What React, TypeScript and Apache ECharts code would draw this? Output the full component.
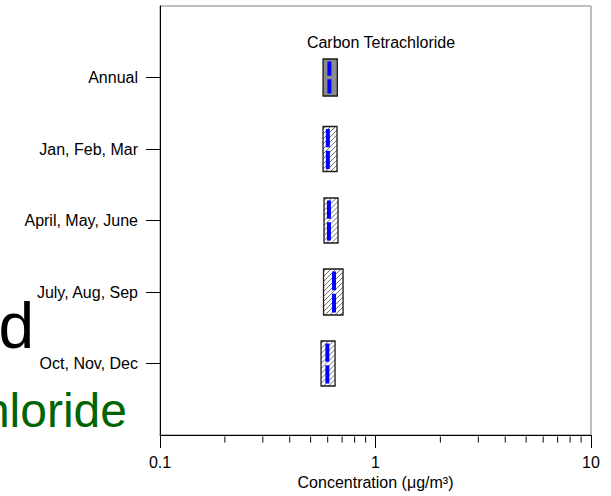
import { useEffect, useRef } from "react";
import * as echarts from "echarts";

// ---- data ----
const CATEGORIES = ["Annual", "Jan, Feb, Mar", "April, May, June", "July, Aug, Sep", "Oct, Nov, Dec"];
const BOX_LOW = [0.571, 0.571, 0.577, 0.574, 0.559];
const BOX_HIGH = [0.665, 0.663, 0.67, 0.707, 0.649];
const BOX_MEDIAN = [0.611, 0.601, 0.608, 0.642, 0.598];
const X_MAJOR_TICKS = [0.1, 1, 10];
const X_MINOR_TICKS = [0.2, 0.3, 0.4, 0.5, 0.6, 0.7, 0.8, 0.9, 2, 3, 4, 5, 6, 7, 8, 9];
const TITLE = "Carbon Tetrachloride";
const X_AXIS_NAME = "Concentration (\u03bcg/m\u00b3)";
const BG_TEXT_BLACK = "d";
const BG_TEXT_GREEN = "hloride";

// ---- style ----
const FONT = "'Liberation Sans', Arial, Helvetica, sans-serif";
const BOX_HALF = [18.5, 22.5, 22.5, 23, 22.5];
const BOX_FILLED = [true, false, false, false, false];

export default function App() {
  const ref = useRef<HTMLDivElement>(null);
  useEffect(() => {
    const chart = echarts.init(ref.current!, null, { renderer: "svg" });
    const boxData = CATEGORIES.map((_, i) => [BOX_LOW[i], BOX_HIGH[i], BOX_MEDIAN[i], i + 1]);
    const minorData = X_MINOR_TICKS.map((v) => [v, 6]);

    chart.setOption({
      animation: false,
      textStyle: { fontFamily: FONT },
      grid: {
        left: 160,
        right: 20,
        top: 6,
        bottom: 61,
        show: true,
        borderColor: "#808080",
        borderWidth: 1,
        backgroundColor: "#fff",
      },
      xAxis: {
        type: "log",
        logBase: 10,
        min: X_MAJOR_TICKS[0],
        max: X_MAJOR_TICKS[X_MAJOR_TICKS.length - 1],
        name: X_AXIS_NAME,
        nameLocation: "middle",
        nameGap: 35,
        nameTextStyle: { color: "#000", fontSize: 16, fontFamily: FONT },
        axisLine: { show: true, onZero: false, lineStyle: { color: "#000", width: 1 } },
        axisTick: { show: true, length: 13, inside: false, lineStyle: { color: "#000", width: 1 } },
        axisLabel: {
          color: "#000",
          fontSize: 16,
          fontFamily: FONT,
          margin: 19,
          formatter: (v: number) => (v < 1 ? v.toFixed(1) : String(Math.round(v))),
        },
        splitLine: { show: false },
        minorTick: { show: false },
      },
      yAxis: {
        type: "value",
        min: 0,
        max: 6,
        inverse: true,
        axisLine: { show: true, onZero: false, lineStyle: { color: "#000", width: 1 } },
        axisTick: {
          show: true,
          length: 14,
          inside: false,
          customValues: [1, 2, 3, 4, 5],
          lineStyle: { color: "#000", width: 1 },
        },
        axisLabel: {
          color: "#000",
          fontSize: 16,
          fontFamily: FONT,
          margin: 22,
          customValues: [1, 2, 3, 4, 5],
          formatter: (v: number) => CATEGORIES[Math.round(v) - 1] ?? "",
        },
        splitLine: { show: false },
      },
      graphic: [
        {
          type: "text",
          x: 34,
          y: 326,
          z: -1,
          style: { text: BG_TEXT_BLACK, fill: "#000", fontSize: 64, fontFamily: FONT, align: "right", verticalAlign: "middle" },
        },
        {
          type: "text",
          x: 127,
          y: 410,
          z: -1,
          style: { text: BG_TEXT_GREEN, fill: "#006400", fontSize: 48, fontFamily: FONT, align: "right", verticalAlign: "middle" },
        },
        {
          type: "text",
          x: 381,
          y: 42,
          z: 10,
          style: { text: TITLE, fill: "#000", fontSize: 16, fontFamily: FONT, align: "center", verticalAlign: "middle" },
        },
      ],
      series: [
        {
          type: "custom",
          clip: false,
          encode: { x: [0, 1, 2], y: 3 },
          data: boxData,
          renderItem: (params: any, api: any) => {
            const i = params.dataIndex;
            const pos = api.value(3);
            const a = api.coord([api.value(0), pos]);
            const b = api.coord([api.value(1), pos]);
            const m = api.coord([api.value(2), pos]);
            const h = BOX_HALF[i];
            const x0 = a[0];
            const x1 = b[0];
            const y0 = a[1] - h;
            const y1 = a[1] + h;
            const children: any[] = [];
            children.push({
              type: "rect",
              shape: { x: x0, y: y0, width: x1 - x0, height: y1 - y0 },
              style: { fill: BOX_FILLED[i] ? "#8c8c8c" : "#fff", stroke: "none" },
            });
            if (!BOX_FILLED[i]) {
              const s = 5;
              for (let c = x0 + y0 + s / 2; c < x1 + y1; c += s) {
                const xa = Math.max(x0, c - y1);
                const xb = Math.min(x1, c - y0);
                if (xb > xa) {
                  children.push({
                    type: "line",
                    shape: { x1: xa, y1: c - xa, x2: xb, y2: c - xb },
                    style: { stroke: "#333", lineWidth: 0.7 },
                  });
                }
              }
            }
            children.push({
              type: "rect",
              shape: { x: x0, y: y0, width: x1 - x0, height: y1 - y0 },
              style: { fill: "none", stroke: "#1a1a1a", lineWidth: 1.3 },
            });
            const mid = (y0 + y1) / 2;
            const inset = 2.5;
            const gap = 1.75;
            children.push({
              type: "line",
              shape: { x1: m[0], y1: y0 + inset, x2: m[0], y2: mid - gap },
              style: { stroke: "#0000ff", lineWidth: 4 },
            });
            children.push({
              type: "line",
              shape: { x1: m[0], y1: mid + gap, x2: m[0], y2: y1 - inset },
              style: { stroke: "#0000ff", lineWidth: 4 },
            });
            return { type: "group", children };
          },
        },
        {
          type: "custom",
          clip: false,
          silent: true,
          encode: { x: 0, y: 1 },
          data: minorData,
          renderItem: (_params: any, api: any) => {
            const p = api.coord([api.value(0), api.value(1)]);
            return {
              type: "line",
              shape: { x1: p[0], y1: p[1] + 1.5, x2: p[0], y2: p[1] + 7.5 },
              style: { stroke: "#000", lineWidth: 1 },
            };
          },
        },
      ],
    });
    return () => chart.dispose();
  }, []);
  return <div ref={ref} style={{ position: "absolute", left: 0, top: 0, width: 611, height: 496 }} />;
}
